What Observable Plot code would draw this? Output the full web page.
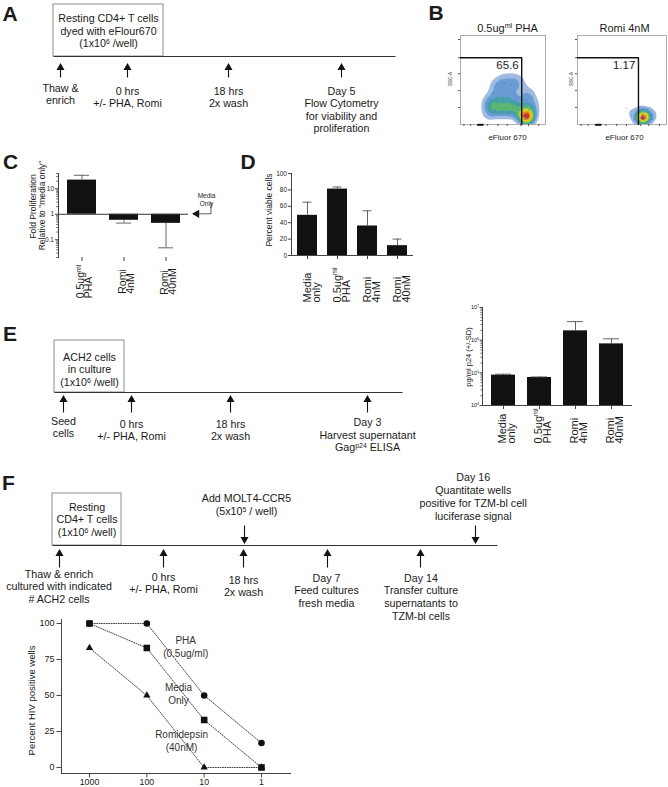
<!DOCTYPE html>
<html><head><meta charset="utf-8">
<script src="https://cdn.jsdelivr.net/npm/d3@7"></script>
<script src="https://cdn.jsdelivr.net/npm/@observablehq/plot@0.6"></script>
<style>
body{margin:0;background:#fff}
#page{position:relative;width:668px;height:787px;overflow:hidden;background:#fff}
#page svg{position:absolute;overflow:visible;max-width:none}
</style></head><body><div id="page"></div><script>
// ================= DATA =================
// Panel B (flow cytometry, arbitrary axis units 0-100)
const flowTitles = ["0.5ug^{ml} PHA", "Romi 4nM"];
const flowGatePct = ["65.6", "1.17"];
const flowGateX = [72, 68.5];
const flowGateY = [75, 75];
const flowPHA = [
  [33,16],[37,19],[41,17],[45,20],[49,18],[53,19],[57,17],[61,20],[65,18],[69,16],
  [35,22],[43,23],[51,24],[59,23],[67,22],[39,13],[47,12],[55,13],[63,12],[71,11],
  [34,28],[42,30],[50,32],[58,30],[66,29],[46,37],[55,38],[63,36],[38,35],
  [44,44],[52,47],[60,45],[68,43],[56,53],[48,51],
  [76,6],[77,7],[78,8],[77,9],[79,7],[78,10],[76,9],[79,11],[77,13],[80,16],[78,19],[81,23],[77,27],[80,32],[78,38],
  [78,8],[77,7],[78,9],
  [31,9],[31,24],[86,9],[87,20],[84,30],[72,50],[40,44],[64,52]
];
const flowRomi = [
  [72,6],[73,7],[74,8],[75,9],[73,9],[74,6],[75,7],[76,10],[72,9],[74,11],[73,12],[76,8],[75,5],[71,8],[74,8],[73,7],
  [60,10],[66,14],[82,10],[85,6],[55,18],[79,17],[63,5],[88,14],[70,20]
];
const flowTicksY = [19, 38, 57, 75, 95.5];
const flowTicksX = [4, 12, 20, 32, 44, 55, 71, 80, 92];

// Panel C
const cCategories = ["0.5ug^{ml}\nPHA", "Romi\n4nM", "Romi\n40nM"];
const cFold = [22, 0.58, 0.44];
const cErrEnd = [34, 0.45, 0.048];
const cTicks = [0.1, 1, 10];
const cMinor = [0.02,0.03,0.04,0.05,0.06,0.07,0.08,0.09,0.2,0.3,0.4,0.5,0.6,0.7,0.8,0.9,2,3,4,5,6,7,8,9,20,30,40];

// Panel D
const dCategories = ["Media\nonly", "0.5ug^{ml}\nPHA", "Romi\n4nM", "Romi\n40nM"];
const dViable = [49, 81, 36, 12];
const dSD = [16, 2.5, 18.5, 8];
const dTicks = [0, 20, 40, 60, 80, 100];

// Panel E
const eCategories = ["Media\nonly", "0.5ug^{ml}\nPHA", "Romi\n4nM", "Romi\n40nM"];
const eP24 = [85000, 72000, 1.93e6, 7.7e5];
const eErrEnd = [91000, 75000, 3.7e6, 1.1e6];
const eTicks = [1e4, 1e5, 1e6, 1e7];
const eMinor = [2,3,4,5,6,7,8,9].flatMap(k => [1e4, 1e5, 1e6].map(p => k * p));

// Panel F
const fCells = [1000, 100, 10, 1];
const fPHA = [100, 100, 50, 17];
const fMedia = [100, 83, 33, 0];
const fRomi = [83, 50, 0, 0];
const fTicksY = [0, 25, 50, 75, 100];
const fSeriesNames = ["PHA", "Media only", "Romidepsin"];
const fLabelText = [["PHA", "(0.5ug/ml)"], ["Media", "Only"], ["Romidepsin", "(40nM)"]];

// Timelines (text content)
const tlA_box = ["Resting CD4+ T cells", "dyed with eFlour670", "(1x10^{6} /well)"];
const tlA_events = [["Thaw &", "enrich"], ["0 hrs", "+/- PHA, Romi"], ["18 hrs", "2x wash"], ["Day 5", "Flow Cytometry", "for viability and", "proliferation"]];
const tlE_box = ["ACH2 cells", "in culture", "(1x10^{6} /well)"];
const tlE_events = [["Seed", "cells"], ["0 hrs", "+/- PHA, Romi"], ["18 hrs", "2x wash"], ["Day 3", "Harvest supernatant", "Gag^{p24} ELISA"]];
const tlF_box = ["Resting", "CD4+ T cells", "(1x10^{6} /well)"];
const tlF_events = [["Thaw & enrich", "cultured with indicated", "# ACH2 cells"], ["0 hrs", "+/- PHA, Romi"], ["18 hrs", "2x wash"], ["Day 7", "Feed cultures", "fresh media"], ["Day 14", "Transfer culture", "supernatants to", "TZM-bl cells"]];
const tlF_down = [["Add MOLT4-CCR5", "(5x10^{5} / well)"], ["Day 16", "Quantitate wells", "positive for TZM-bl cell", "luciferase signal"]];

// ================= LAYOUT (page pixels) =================
const FONT = '"Liberation Sans", Arial, Helvetica, sans-serif';
const INK = "#1a1a1a";
const TFS = 10.7;
const LAY = {
  A: {line: [53, 395, 56], box: [53, 163, 4], boxX: 108, boxY: 21.5, boxLh: 12.7,
      up: [60, 127, 228, 341], upTip: 64, upTail: 77, textX: [60, 127, 228, 341], textY: [91, 94, 94, 94], lh: 12.5},
  E: {line: [54, 402, 392], box: [54, 124, 340], boxX: 89, boxY: 360, boxLh: 12.5,
      up: [63, 131, 230, 367], upTip: 396, upTail: 412, textX: [63, 131, 230, 367], textY: [424, 427, 427, 425.5], lh: 12.5},
  F: {line: [52, 497, 545], box: [52, 121, 493], boxX: 86.5, boxY: 510, boxLh: 12.8,
      up: [59, 163, 243, 327, 420], upTip: 550, upTail: 567, textX: [58.5, 163, 243, 326, 420.5], textY: [577, 580, 583, 581, 581], lh: 12.8,
      down: [244, 475], downTail: 525, downTip: 542, downTextX: [246, 472.7], downTextY: [501.5, 480], downLh: 13}
};

// ================= HELPERS =================
const page = document.getElementById("page");
const baseStyle = {background: "transparent", fontFamily: FONT, color: INK, overflow: "visible"};
function place(svg, left, top) { svg.style.left = left + "px"; svg.style.top = top + "px"; page.appendChild(svg); }

function textWidth(str, fs) {
  const ctx = textWidth.ctx || (textWidth.ctx = document.createElement("canvas").getContext("2d"));
  const seg = (s, size) => { ctx.font = `${size}px ${FONT}`; return ctx.measureText(s).width; };
  let w = 0, last = 0, m; const re = /\^\{([^}]*)\}/g;
  while ((m = re.exec(str))) { w += seg(str.slice(last, m.index), fs) + seg(m[1], fs * 0.65); last = re.lastIndex; }
  return w + seg(str.slice(last), fs);
}

function catLabels(cats, {fs, dxs, startDy}) {
  const marks = [];
  cats.forEach(c => {
    const lines = c.split("\n");
    const dy = typeof startDy === "function" ? startDy(lines) : startDy;
    lines.forEach((ln, k) => marks.push(Plot.text([c], {
      x: d => d, text: () => ln, frameAnchor: "bottom", rotate: -90, textAnchor: "start",
      lineAnchor: "bottom", dx: dxs[k], dy, fontSize: fs, fill: INK
    })));
  });
  return marks;
}

function supify(root) {
  const NS = "http://www.w3.org/2000/svg";
  root.querySelectorAll("text, tspan").forEach(el => {
    if (el.childElementCount) return;
    const s = el.textContent;
    if (!s || s.indexOf("^{") < 0) return;
    el.textContent = "";
    let last = 0, m; const re = /\^\{([^}]*)\}/g;
    while ((m = re.exec(s))) {
      if (m.index > last) el.appendChild(document.createTextNode(s.slice(last, m.index)));
      const t = document.createElementNS(NS, "tspan");
      t.setAttribute("baseline-shift", "super");
      t.setAttribute("font-size", "65%");
      t.textContent = m[1];
      el.appendChild(t);
      last = re.lastIndex;
    }
    if (last < s.length) el.appendChild(document.createTextNode(s.slice(last)));
  });
}

// ================= PANEL B =================
const flowInterp = d3.piecewise(d3.interpolateRgb, ["#dfe8f6", "#98b6e0", "#5b93cf", "#3aa894", "#7cc845", "#e6df22", "#f29020", "#e02418"]);
function flowPlot(points, i, {width, ml, mr, bw, th}) {
  return Plot.plot({
    width, height: 120, marginLeft: ml, marginRight: mr, marginTop: 15, marginBottom: 16,
    style: baseStyle,
    x: {domain: [0, 100], axis: null}, y: {domain: [0, 100], axis: null},
    color: {type: "linear", interpolate: flowInterp},
    marks: [
      Plot.density(points, {x: d => d[0], y: d => d[1], fill: "density", bandwidth: bw, thresholds: th, clip: true}),
      Plot.dot(points, {x: d => d[0], y: d => d[1], r: 0.6, fill: "#3d6fc0", fillOpacity: 0.55, stroke: "none"}),
      Plot.frame({stroke: "#9a9a9a", strokeWidth: 0.8}),
      Plot.axisY({ticks: flowTicksY, tickSize: 2, text: null, stroke: "#555", label: null}),
      Plot.axisX({ticks: flowTicksX, tickSize: 2, text: null, stroke: "#555", label: null}),
      Plot.line([[0, flowGateY[i]], [flowGateX[i], flowGateY[i]], [flowGateX[i], 0]], {x: d => d[0], y: d => d[1], stroke: "#111", strokeWidth: 1.4}),
      Plot.text([flowGatePct[i]], {x: flowGateX[i] - 3.5, y: flowGateY[i] - 12.6, text: d => d, textAnchor: "end", lineAnchor: "bottom", fontSize: 11.5, fill: INK})
    ]
  });
}
place(flowPlot(flowPHA, 0, {width: 110, ml: 20, mr: 5, bw: 2.6, th: 9}), 440, 20);
place(flowPlot(flowRomi, 1, {width: 108, ml: 17, mr: 2, bw: 1.8, th: 8}), 560, 20);

// ================= PANEL C =================
const cData = cCategories.map((c, i) => ({c, v: cFold[i], e: cErrEnd[i]}));
place(Plot.plot({
  width: 210, height: 170, marginLeft: 58, marginRight: 22, marginTop: 33, marginBottom: 53,
  style: baseStyle,
  x: {domain: cCategories, paddingInner: 0.32, paddingOuter: 0.19, axis: null},
  y: {type: "log", domain: [0.02, 40], axis: null},
  marks: [
    Plot.barY(cData, {x: "c", y1: 1, y2: "v", fill: "#111"}),
    Plot.ruleX(cData, {x: "c", y1: "v", y2: "e", stroke: "#555", strokeWidth: 0.9}),
    Plot.tickY(cData, {x: "c", y: "e", stroke: "#555", strokeWidth: 0.9, insetLeft: 7, insetRight: 7}),
    Plot.ruleY([1], {stroke: "#333"}),
    Plot.frame({anchor: "left", stroke: "#444"}),
    Plot.axisY({ticks: cMinor, tickSize: 1.8, text: null, stroke: "#666", label: null}),
    Plot.axisY({ticks: cTicks, tickSize: 3, tickPadding: 1.5, tickFormat: d => String(d), fontSize: 6.5, fill: INK, stroke: "#444", label: null}),
    Plot.axisX({tickSize: 4, text: null, stroke: "#444", label: null}),
    ...catLabels(cCategories, {fs: 10.5, dxs: [1.5, 9.5], startDy: lines => 281 + d3.max(lines, l => textWidth(l, 10.5)) / 2 - 257})
  ]
}), 0, 140);

// ================= PANEL D =================
const dData = dCategories.map((c, i) => ({c, v: dViable[i], e: dViable[i] + dSD[i]}));
place(Plot.plot({
  width: 220, height: 170, marginLeft: 86, marginRight: 12, marginTop: 33, marginBottom: 55,
  style: baseStyle,
  x: {domain: dCategories, paddingInner: 0.335, paddingOuter: 0.148, axis: null},
  y: {domain: [0, 100], axis: null},
  marks: [
    Plot.barY(dData, {x: "c", y: "v", fill: "#111"}),
    Plot.ruleX(dData, {x: "c", y1: "v", y2: "e", stroke: "#555", strokeWidth: 0.9}),
    Plot.tickY(dData, {x: "c", y: "e", stroke: "#555", strokeWidth: 0.9, insetLeft: 5.5, insetRight: 5.5}),
    Plot.ruleY([0], {stroke: "#444"}),
    Plot.frame({anchor: "left", stroke: "#444"}),
    Plot.axisY({ticks: dTicks, tickSize: 3, tickPadding: 1.5, fontSize: 6.5, fill: INK, stroke: "#444", label: null}),
    Plot.axisX({tickSize: 4, text: null, stroke: "#444", label: null}),
    ...catLabels(dCategories, {fs: 11, dxs: [3.5, 12.5], startDy: 47})
  ]
}), 205, 140);

// ================= PANEL E (chart) =================
const eData = eCategories.map((c, i) => ({c, v: eP24[i], e: eErrEnd[i]}));
place(Plot.plot({
  width: 238, height: 160, marginLeft: 52, marginRight: 36, marginTop: 17, marginBottom: 45,
  style: baseStyle,
  x: {domain: eCategories, paddingInner: 0.324, paddingOuter: 0.19, axis: null},
  y: {type: "log", domain: [1e4, 1e7], axis: null},
  marks: [
    Plot.barY(eData, {x: "c", y1: 1e4, y2: "v", fill: "#111"}),
    Plot.ruleX(eData, {x: "c", y1: "v", y2: "e", stroke: "#555", strokeWidth: 0.9}),
    Plot.tickY(eData, {x: "c", y: "e", stroke: "#555", strokeWidth: 0.9, insetLeft: 4, insetRight: 4}),
    Plot.ruleY([1e4], {stroke: "#444"}),
    Plot.frame({anchor: "left", stroke: "#444"}),
    Plot.axisY({ticks: eMinor, tickSize: 1.6, text: null, stroke: "#666", label: null}),
    Plot.axisY({ticks: eTicks, tickSize: 2.5, tickPadding: 1, tickFormat: d => `10^{${Math.round(Math.log10(d))}}`, fontSize: 5.5, fill: INK, stroke: "#444", label: null}),
    Plot.axisX({tickSize: 4, text: null, stroke: "#444", label: null}),
    ...catLabels(eCategories, {fs: 11, dxs: [2, 11], startDy: 38})
  ]
}), 430, 290);

// ================= PANEL F (chart) =================
const fValues = [fPHA, fMedia, fRomi];
const fRows = fSeriesNames.flatMap((s, j) => fCells.map((c, i) => ({series: s, cells: c, pct: fValues[j][i]})));
const fSymbols = {"PHA": ["circle", 3.3], "Media only": ["square", 3.7], "Romidepsin": ["triangle", 2.7]};
const fLabelPos = [[21, 86, 77], [28, 52.8, 43.8], [24.8, 20.8, 11.8]];
place(Plot.plot({
  width: 300, height: 182, marginLeft: 61, marginRight: 10, marginTop: 14, marginBottom: 14,
  style: baseStyle,
  x: {type: "log", domain: [1000, 1], range: [89, 261], axis: null},
  y: {domain: [0, 100], range: [162, 18], axis: null},
  marks: [
    Plot.line(fRows, {x: "cells", y: "pct", z: "series", stroke: "#444", strokeWidth: 1, strokeDasharray: "1,1.4"}),
    ...fSeriesNames.map(s => Plot.dot(fRows.filter(r => r.series === s), {x: "cells", y: "pct", symbol: fSymbols[s][0], r: fSymbols[s][1], fill: "#111", stroke: "none"})),
    Plot.frame({anchor: "left", stroke: "#444"}),
    Plot.frame({anchor: "bottom", stroke: "#444"}),
    Plot.axisY({ticks: fTicksY, tickSize: 4.5, tickPadding: 2.5, fontSize: 9, fill: INK, stroke: "#444", label: null}),
    Plot.axisX({ticks: fCells, tickSize: 4.5, tickPadding: 0.5, fontSize: 8.8, tickFormat: d => String(d), fill: INK, stroke: "#444", label: null}),
    ...fLabelText.flatMap((lines, j) => lines.map((t, k) => Plot.text([t], {
      x: fLabelPos[j][0], y: fLabelPos[j][1 + k], text: d => d, textAnchor: "middle", lineAnchor: "bottom", fontSize: 10, fill: "#333"
    })))
  ]
}), 0, 605);

// ================= ANNOTATION LAYER (timelines, letters, labels) =================
const ANN = [], LINKS = [], RECTS = [], HEADS = [], BLOCKS = [];
function T(x, y, t, fs, o = {}) { ANN.push({x, y, t, fs, a: o.a || "middle", w: o.w || "normal", rot: o.rot || 0}); }
function arrow(x, tail, tip) {
  const dir = Math.sign(tip - tail), hr = 2.1, cy = tip - dir * 1.555 * hr;
  LINKS.push({x1: x, x2: x, y1: tail, y2: cy, stroke: "#111", sw: 1.1});
  HEADS.push({x, y: cy, rot: dir < 0 ? 0 : 180, r: hr});
}
function timeline(box, events, lay, down, downEvents) {
  LINKS.push({x1: lay.line[0], x2: lay.line[1], y1: lay.line[2], y2: lay.line[2], stroke: "#333", sw: 1.2});
  RECTS.push({x1: lay.box[0], x2: lay.box[1], y1: lay.box[2], y2: lay.line[2]});
  box.forEach((t, k) => T(lay.boxX, lay.boxY + k * lay.boxLh, t, TFS));
  events.forEach((ev, i) => {
    arrow(lay.up[i], lay.upTail, lay.upTip);
    ev.forEach((t, k) => T(lay.textX[i], lay.textY[i] + k * lay.lh, t, TFS));
  });
  if (downEvents) downEvents.forEach((ev, i) => {
    arrow(lay.down[i], lay.downTail, lay.downTip);
    ev.forEach((t, k) => T(lay.downTextX[i], lay.downTextY[i] + k * lay.downLh, t, TFS));
  });
}
timeline(tlA_box, tlA_events, LAY.A);
timeline(tlE_box, tlE_events, LAY.E);
timeline(tlF_box, tlF_events, LAY.F, true, tlF_down);

// panel letters
[["A", 2, 20], ["B", 428, 19], ["C", 2.5, 168], ["D", 240, 168], ["E", 2.5, 340], ["F", 1.5, 489]].forEach(([t, x, y]) => T(x, y, t, 21, {a: "start", w: "bold"}));
// panel B titles / axis names
T(507, 31.7, flowTitles[0], 11); T(624, 31.7, flowTitles[1], 11);
T(507, 139, "eFluor 670", 8); T(624, 139, "eFluor 670", 8);
T(450, 78.5, "SSC-A", 4.6, {rot: -90}); T(571.5, 78.5, "SSC-A", 4.6, {rot: -90});
BLOCKS.push({x1: 477.5, x2: 483.5, y1: 123.8, y2: 125.8}, {x1: 595.5, x2: 601.5, y1: 123.8, y2: 125.8});
// panel C axis name and "Media Only" marker
T(33, 206, "Fold Proliferation", 8.5, {rot: -90});
T(42, 205, 'Relative to "media only"', 8.5, {rot: -90});
T(206, 197, "Media", 6.5); T(206, 205, "Only", 6.5);
HEADS.push({x: 196.3, y: 213.3, rot: -90, r: 2.2});
LINKS.push({x1: 198.5, x2: 210.5, y1: 213.3, y2: 213.3, stroke: "#333", sw: 0.8}, {x1: 210.5, x2: 210.5, y1: 213.3, y2: 201.5, stroke: "#333", sw: 0.8});
// panel D, E, F axis names
T(269, 209.5, "Percent viable cells", 8.5, {rot: -90});
T(468.5, 356.5, "pg/ml p24 (+/-SD)", 7.5, {rot: -90});
T(31, 700, "Percent HIV positive wells", 9.5, {rot: -90});

const textMarks = d3.groups(ANN, d => `${d.a}|${d.w}|${d.rot ? 1 : 0}`).map(([key, rows]) => {
  const [a, w, r] = key.split("|");
  return Plot.text(rows, {x: "x", y: "y", text: "t", fontSize: "fs", rotate: "rot", textAnchor: a, fontWeight: w,
    lineAnchor: r === "1" ? "middle" : "bottom", fill: INK});
});
place(Plot.plot({
  width: 668, height: 787, margin: 0, style: {...baseStyle, pointerEvents: "none"},
  x: {type: "identity", axis: null}, y: {type: "identity", axis: null},
  marks: [
    Plot.rect(RECTS, {x1: "x1", x2: "x2", y1: "y1", y2: "y2", fill: "none", stroke: "#8c8c8c", strokeWidth: 1}),
    Plot.rect(BLOCKS, {x1: "x1", x2: "x2", y1: "y1", y2: "y2", fill: "#111"}),
    Plot.link(LINKS, {x1: "x1", x2: "x2", y1: "y1", y2: "y2", stroke: "stroke", strokeWidth: "sw"}),
    Plot.dot(HEADS, {x: "x", y: "y", r: "r", rotate: "rot", symbol: "triangle", fill: "#111", stroke: "none"}),
    ...textMarks
  ]
}), 0, 0);

supify(page);
</script></body></html>
